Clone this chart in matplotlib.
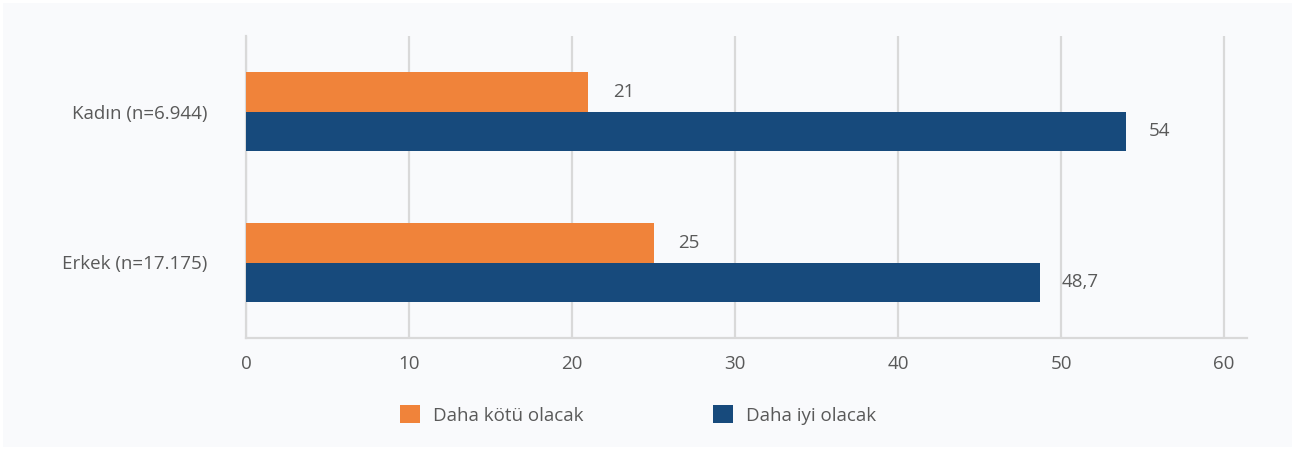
import matplotlib
matplotlib.use("Agg")
import matplotlib.pyplot as plt
from matplotlib.patches import Rectangle
import numpy as np

categories = ["Kadın (n=6.944)", "Erkek (n=17.175)"]
series_names = ["Daha kötü olacak", "Daha iyi olacak"]
worse = [21, 25]
better = [54, 48.7]
value_labels_worse = ["21", "25"]
value_labels_better = ["54", "48,7"]
xticks = [0, 10, 20, 30, 40, 50, 60]

orange = "#F0833A"
blue = "#174A7C"
textc = "#595959"
gridc = "#D9D9D9"
bg = "#F9FAFC"
fs = 13.5

plt.rcParams['font.family'] = ['Open Sans', 'DejaVu Sans']

fig = plt.figure(figsize=(12.95, 4.5), dpi=100, facecolor="white")
fig.patches.append(Rectangle((3/1295, 3/450), 1289/1295, 444/450, transform=fig.transFigure,
                             facecolor=bg, edgecolor="none", zorder=-10))

ax = fig.add_axes([246/1295, 1-338/450, (1247-246)/1295, (338-36)/450])
ax.set_facecolor(bg)

y = np.arange(len(categories))
h = 0.26
ax.barh(y - h/2, worse, height=h, color=orange, label=series_names[0], zorder=3)
ax.barh(y + h/2, better, height=h, color=blue, label=series_names[1], zorder=3)

for i in range(len(categories)):
    ax.annotate(value_labels_worse[i], (worse[i], y[i] - h/2), xytext=(18, 0),
                textcoords="offset points", va="center", ha="left", fontsize=fs, color=textc)
    ax.annotate(value_labels_better[i], (better[i], y[i] + h/2), xytext=(16, 0),
                textcoords="offset points", va="center", ha="left", fontsize=fs, color=textc)

ax.set_xlim(0, (1247-246)/16.3)
ax.set_ylim(1.5, -0.5)
ax.set_yticks(y)
ax.set_yticklabels(categories, fontsize=fs, color=textc)
ax.set_xticks(xticks)
ax.set_xticklabels([str(t) for t in xticks], fontsize=fs, color=textc)
ax.tick_params(axis="y", length=0, pad=28)
ax.tick_params(axis="x", length=0, pad=12)
ax.xaxis.grid(True, color=gridc, linewidth=1.6, zorder=0)
ax.set_axisbelow(True)
for s in ["top", "right"]:
    ax.spines[s].set_visible(False)
ax.spines["left"].set_color(gridc)
ax.spines["left"].set_linewidth(1.6)
ax.spines["bottom"].set_color(gridc)
ax.spines["bottom"].set_linewidth(1.6)

leg = fig.legend(loc="center", bbox_to_anchor=(0.4927, 1-415/450), ncol=2, frameon=False,
                 fontsize=fs, handlelength=1.07, handleheight=1.07, columnspacing=6.9,
                 handletextpad=0.7)
for t in leg.get_texts():
    t.set_color(textc)

fig.savefig("out.png", dpi=100, facecolor=fig.get_facecolor())
